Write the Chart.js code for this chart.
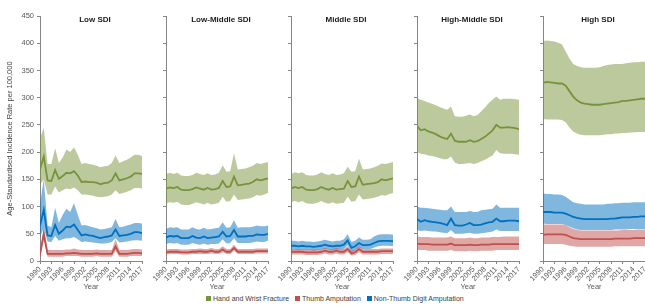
<!DOCTYPE html>
<html>
<head>
<meta charset="utf-8">
<script src="https://cdn.jsdelivr.net/npm/chart.js@4"></script>
<style>
  html, body { margin: 0; padding: 0; background: #fff; }
  body { width: 645px; height: 306px; position: relative; overflow: hidden; font-family: "Liberation Sans", Arial, sans-serif; }
  canvas { position: absolute; top: 0; }
  .ptitle { position: absolute; top: 15px; font-size: 8px; font-weight: bold; color: #1a1a1a; text-align: center; white-space: nowrap; }
  #legend { position: absolute; top: 295px; left: 206px; font-size: 7px; color: #404040; white-space: nowrap; }
  #legend span.sw { display: inline-block; width: 5px; height: 5px; margin-right: 2px; vertical-align: 0px; }
  #legend span.it { margin-right: 4px; }
</style>
</head>
<body>
<canvas id="p1" width="150" height="295" style="left:0px"></canvas>
<canvas id="p2" width="135" height="295" style="left:141px"></canvas>
<canvas id="p3" width="135" height="295" style="left:266px"></canvas>
<canvas id="p4" width="135" height="295" style="left:392px"></canvas>
<canvas id="p5" width="135" height="295" style="left:518px"></canvas>

<div class="ptitle" style="left:40px;width:110px">Low SDI</div>
<div class="ptitle" style="left:166px;width:110px">Low-Middle SDI</div>
<div class="ptitle" style="left:291px;width:110px">Middle SDI</div>
<div class="ptitle" style="left:417px;width:110px">High-Middle SDI</div>
<div class="ptitle" style="left:543px;width:110px">High SDI</div>

<div id="legend">
  <span class="sw" style="background:#77933C"></span><span class="it">Hand and Wrist Fracture</span>
  <span class="sw" style="background:#C0504D"></span><span class="it">Thumb Amputation</span>
  <span class="sw" style="background:#0070C0"></span><span class="it">Non-Thumb Digit Amputation</span>
</div>

<script>
// years on the x axis
const years = [1990,1991,1992,1993,1994,1995,1996,1997,1998,1999,2000,2001,2002,2003,
               2004,2005,2006,2007,2008,2009,2010,2011,2012,2013,2014,2015,2016,2017];
const yTicks = [0,50,100,150,200,250,300,350,400,450];

// Low SDI
const lowFracture      = [168,192,148,147,167,151,156,162,161,165,157,145,146,145,145,144,141,143,144,148,161,148,150,152,155,161,161,160];
const lowFractureUp    = [225,245,178,178,207,180,190,205,200,209,195,178,180,178,177,175,172,174,175,180,194,180,183,186,190,195,195,193];
const lowFractureLo    = [140,150,122,122,137,126,130,133,132,135,130,122,122,121,120,118,117,118,119,122,130,123,125,127,130,134,134,133];
const lowThumb         = [12,50,13,13,13,13,13,14,14,15,14,13,13,13,13,14,13,13,13,13,27,13,13,13,14,15,15,14];
const lowThumbUp       = [18,62,20,20,20,20,20,21,21,23,21,20,20,20,20,21,20,20,20,20,40,20,20,20,21,22,22,21];
const lowThumbLo       = [7,38,8,8,8,8,8,9,9,9,9,8,8,8,8,9,8,8,8,8,19,8,8,8,9,9,9,9];
const lowDigit         = [65,94,47,46,66,50,56,63,62,67,57,47,49,47,46,44,42,44,45,47,58,46,47,48,50,53,53,51];
const lowDigitUp       = [105,150,65,62,98,70,85,96,90,106,85,65,66,64,62,60,58,59,60,62,77,62,63,65,67,70,70,69];
const lowDigitLo       = [45,60,36,35,46,37,40,42,42,44,40,35,36,35,34,33,32,32,33,35,42,34,35,36,37,38,38,37];

// Low-Middle SDI
const lmFracture       = [133,135,134,136,131,130,130,132,135,133,131,134,131,132,134,147,136,137,155,139,140,141,142,145,150,148,150,152];
const lmFractureUp     = [160,162,160,162,157,156,156,158,162,160,158,161,158,159,162,176,164,165,198,168,169,170,172,175,180,178,180,182];
const lmFractureLo     = [106,108,107,109,104,103,103,105,108,106,104,107,104,105,107,118,109,110,122,112,113,114,115,117,121,120,122,125];
const lmThumb          = [16,17,17,17,16,16,16,17,17,18,17,17,19,17,17,21,17,17,24,17,17,17,17,17,18,18,18,18];
const lmThumbUp        = [21,22,22,22,21,21,21,22,22,23,22,22,24,22,22,27,22,22,30,22,22,22,22,22,23,23,23,23];
const lmThumbLo        = [12,13,13,13,12,12,12,13,13,13,13,13,14,13,13,16,13,13,19,13,13,13,13,13,14,14,14,14];
const lmDigit          = [43,46,45,46,42,42,42,46,43,42,45,42,43,44,45,54,45,46,57,45,45,45,46,46,49,48,48,50];
const lmDigitUp        = [59,62,61,62,58,58,58,62,59,58,61,58,59,60,61,71,61,62,75,61,62,62,62,63,65,64,64,65];
const lmDigitLo        = [31,33,32,33,30,30,30,33,31,30,32,30,31,31,32,40,32,33,42,33,33,33,33,34,36,35,35,37];

// Middle SDI
const midFracture      = [133,136,134,136,131,130,130,132,136,133,131,134,131,132,133,147,136,137,155,140,141,142,143,145,150,148,150,152];
const midFractureUp    = [160,163,161,163,158,157,157,159,163,160,158,161,158,159,161,173,164,165,188,168,169,170,172,175,179,178,180,182];
const midFractureLo    = [108,110,108,110,106,105,105,107,110,107,105,108,105,106,107,118,109,110,122,113,114,115,116,118,121,120,123,125];
const midThumb         = [17,17,17,17,16,16,16,16,17,19,17,17,19,17,17,22,14,16,22,17,17,17,17,17,18,18,18,18];
const midThumbUp       = [22,22,22,22,21,21,21,21,22,24,22,22,24,22,22,27,19,21,27,22,22,22,22,22,23,23,23,23];
const midThumbLo       = [12,12,12,12,11,11,11,11,12,14,12,12,14,12,12,16,10,11,16,12,12,12,12,12,13,13,13,13];
const midDigit         = [28,28,27,28,27,27,26,27,28,30,28,27,28,28,30,38,24,27,33,29,29,30,33,36,37,37,37,36];
const midDigitUp       = [37,37,36,37,36,36,35,36,37,39,37,36,37,37,40,49,35,37,43,39,39,40,45,48,49,49,49,48];
const midDigitLo       = [21,21,20,21,20,20,19,20,21,22,21,20,21,21,22,29,16,20,25,22,22,22,25,27,28,28,28,27];

// High-Middle SDI
const hmFracture       = [248,240,242,238,236,233,229,226,224,234,221,219,219,219,222,219,220,224,228,234,240,250,245,245,246,245,244,242];
const hmFractureUp     = [299,296,294,291,289,286,283,280,278,284,266,265,265,267,269,266,268,275,282,290,296,302,296,298,298,298,297,296];
const hmFractureLo     = [200,197,196,194,193,191,189,187,187,192,181,178,178,179,180,178,180,183,186,190,194,204,198,197,197,197,196,195];
const hmThumb          = [32,31,31,31,30,30,30,30,30,32,29,29,29,29,30,29,29,30,30,30,31,31,31,31,31,31,31,31];
const hmThumbUp        = [45,44,44,44,43,43,43,43,43,45,42,42,42,42,43,42,42,43,43,43,44,44,44,45,45,45,45,45];
const hmThumbLo        = [20,20,20,19,19,19,19,19,19,20,18,18,18,18,19,18,18,19,19,19,19,20,20,20,20,20,20,20];
const hmDigit          = [77,72,75,73,72,71,70,68,66,78,66,65,65,67,70,66,66,67,69,71,72,78,73,73,74,74,74,73];
const hmDigitUp        = [100,98,98,97,96,95,94,93,93,100,90,90,90,90,92,90,90,93,94,95,96,104,98,98,98,98,98,98];
const hmDigitLo        = [57,55,56,55,54,54,53,52,51,57,50,50,50,51,52,50,50,51,52,53,54,58,55,55,55,55,55,55];

// High SDI
const highFracture     = [327,329,328,327,326,326,322,312,302,295,291,289,288,287,287,287,288,289,290,291,292,294,294,295,296,297,298,298];
const highFractureUp   = [404,405,404,403,401,398,385,372,362,358,356,355,355,355,355,356,358,360,361,362,362,362,363,364,365,365,366,366];
const highFractureLo   = [261,260,260,260,260,259,255,245,238,234,232,231,231,231,231,231,232,233,233,234,234,235,235,236,236,237,237,237];
const highThumb        = [48,49,49,49,49,49,48,45,42,41,40,40,40,40,40,40,40,40,40,41,41,41,41,41,42,42,42,42];
const highThumbUp      = [67,67,67,67,67,67,66,62,59,57,56,56,56,56,56,56,56,56,56,56,56,57,57,57,57,58,58,58];
const highThumbLo      = [31,31,31,31,31,31,30,28,27,26,26,26,26,26,26,26,26,26,26,27,27,27,27,27,27,27,27,27];
const highDigit        = [90,90,90,89,89,89,87,84,81,79,78,77,77,77,77,77,77,77,78,78,79,80,80,80,81,81,82,82];
const highDigitUp      = [124,123,123,122,122,121,118,113,108,106,105,104,104,104,104,104,104,105,105,106,106,107,107,107,108,108,108,108];
const highDigitLo      = [69,68,68,68,68,68,66,63,60,58,57,57,57,57,57,57,57,57,57,58,58,58,58,59,59,59,59,59];

const GREEN = '#77933C', RED = '#C0504D', BLUE = '#0070C0';
const AXIS = '#868686', TXT = '#595959';
const FONT = "'Liberation Sans', Arial, sans-serif";

function pts(arr) {
  return years.map((yr, i) => ({ x: yr, y: arr[i] }));
}

function band(mean, up, lo, color, fillColor) {
  return [
    { data: pts(up), borderWidth: 0, pointRadius: 0, fill: '+1', backgroundColor: fillColor },
    { data: pts(lo), borderWidth: 0, pointRadius: 0, fill: false },
    { data: pts(mean), borderColor: color, borderWidth: 1.8, pointRadius: 0, fill: false, tension: 0 }
  ];
}

function makePanel(id, series, first) {
  const datasets = [
    ...band(series[0], series[1], series[2], GREEN, 'rgba(119,147,60,0.5)'),
    ...band(series[3], series[4], series[5], RED, 'rgba(192,80,77,0.5)'),
    ...band(series[6], series[7], series[8], BLUE, 'rgba(0,112,192,0.5)')
  ];
  new Chart(document.getElementById(id), {
    type: 'line',
    data: { datasets: datasets },
    options: {
      responsive: false,
      animation: false,
      layout: { padding: { top: 16, right: 8, left: first ? 5 : 0, bottom: 0 } },
      plugins: { legend: { display: false }, tooltip: { enabled: false } },
      scales: {
        x: {
          type: 'linear',
          min: 1990,
          max: 2017,
          border: { color: AXIS, width: 1 },
          grid: { drawOnChartArea: false, drawTicks: true, tickLength: 3, color: AXIS },
          ticks: {
            stepSize: 3,
            autoSkip: false,
            minRotation: 45,
            maxRotation: 45,
            padding: 1,
            color: TXT,
            font: { family: FONT, size: 7.5 },
            callback: v => String(v)
          },
          title: { display: true, text: 'Year', color: TXT, font: { family: FONT, size: 7.5 }, padding: { top: 0, bottom: 4 } },
          afterFit: s => { s.height = 34; }
        },
        y: {
          min: 0,
          max: 450,
          border: { color: AXIS, width: 1 },
          grid: { drawOnChartArea: false, drawTicks: true, tickLength: 3, color: AXIS },
          afterBuildTicks: s => { s.ticks = yTicks.map(v => ({ value: v })); },
          ticks: {
            display: first,
            padding: 3,
            color: TXT,
            font: { family: FONT, size: 7.5 }
          },
          title: {
            display: first,
            text: 'Age-Standardised Incidence Rate per 100,000',
            color: '#404040',
            font: { family: FONT, size: 7.5 },
            padding: { top: 0, bottom: 0 }
          },
          afterFit: s => { s.width = first ? 35 : 25; }
        }
      }
    }
  });
}

makePanel('p1', [lowFracture, lowFractureUp, lowFractureLo, lowThumb, lowThumbUp, lowThumbLo, lowDigit, lowDigitUp, lowDigitLo], true);
makePanel('p2', [lmFracture, lmFractureUp, lmFractureLo, lmThumb, lmThumbUp, lmThumbLo, lmDigit, lmDigitUp, lmDigitLo], false);
makePanel('p3', [midFracture, midFractureUp, midFractureLo, midThumb, midThumbUp, midThumbLo, midDigit, midDigitUp, midDigitLo], false);
makePanel('p4', [hmFracture, hmFractureUp, hmFractureLo, hmThumb, hmThumbUp, hmThumbLo, hmDigit, hmDigitUp, hmDigitLo], false);
makePanel('p5', [highFracture, highFractureUp, highFractureLo, highThumb, highThumbUp, highThumbLo, highDigit, highDigitUp, highDigitLo], false);
</script>
</body>
</html>
